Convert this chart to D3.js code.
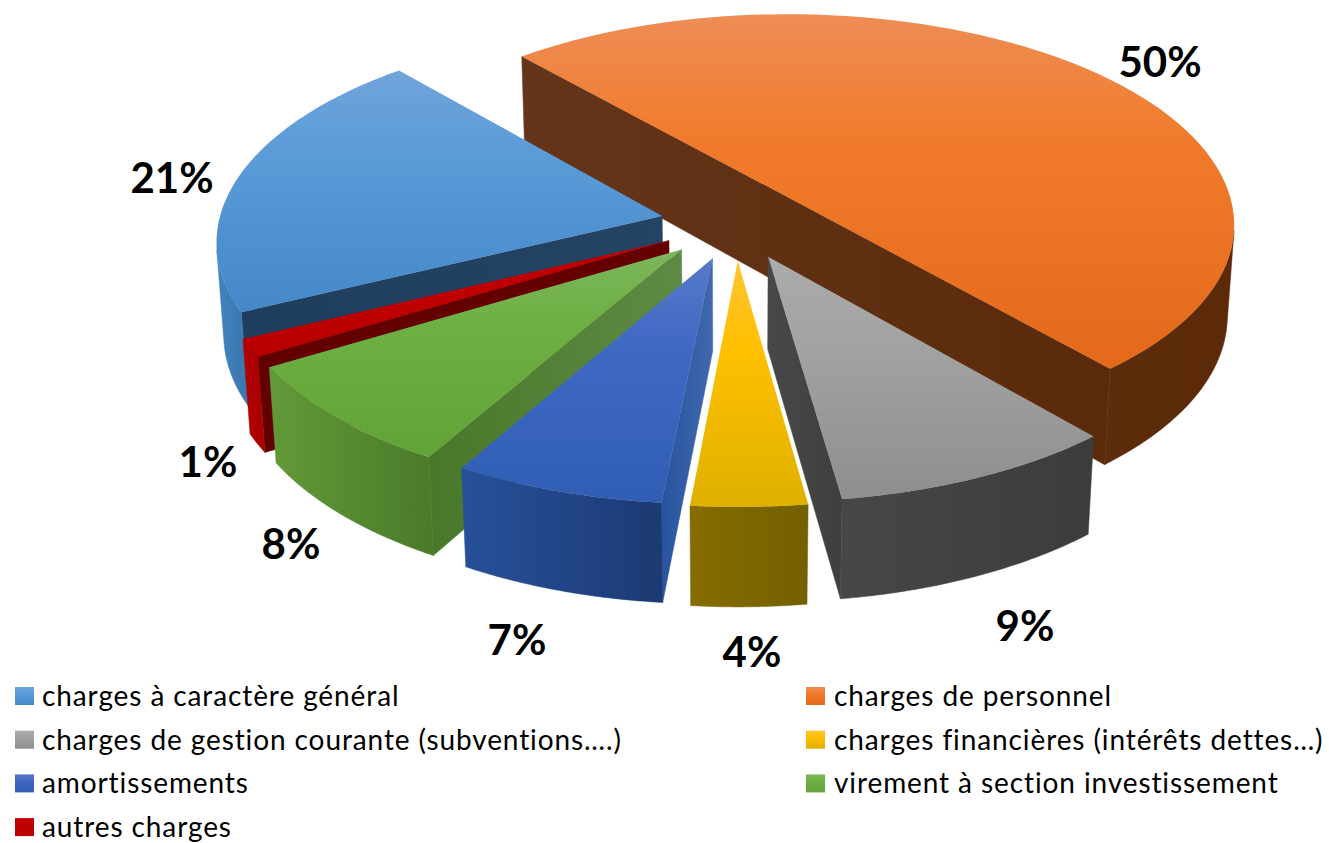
<!DOCTYPE html>
<html>
<head>
<meta charset="utf-8">
<script src="https://cdn.jsdelivr.net/npm/d3@7"></script>
<style>
  body { margin: 0; background: #fff; }
  svg { display: block; }
  text { font-family: Lato, "Open Sans", sans-serif; fill: #000; }
</style>
</head>
<body>
<svg id="chart" width="1329" height="843"></svg>
<script>
// data, in the order of the chart's series (labels show them rounded)
var categories = ["charges à caractère général", "charges de personnel", "charges de gestion courante (subventions….)",
  "charges financières (intérêts dettes…)", "amortissements", "virement à section investissement", "autres charges"];
var values = [20.8, 50.05, 9.16, 3.71, 6.77, 8.14, 1.36];

// colours: top face (light, mid, dark), outer wall (left, right), straight walls (left, right)
var topColors = [["#70a4da", "#5b9bd8", "#4488c9"], ["#ee8d55", "#f17b2c", "#e4691a"], ["#ababab", "#a3a3a3", "#8e8e8e"],
  ["#fdc536", "#ffc000", "#dfb000"], ["#5779c8", "#4069c4", "#2f5eb4"], ["#7cb65c", "#6eb044", "#62a337"], ["#c00000", "#c00000", "#b80000"]];
var outerColors = [["#4283be", "#3a76ae"], ["#5c2c0b", "#5c2a09"], ["#474747", "#3c3c3c"],
  ["#866c00", "#746000"], ["#27509a", "#1c3a73"], ["#629a39", "#4b7a2a"], ["#b30000", "#a80000"]];
var sideColors = [["#1f3d5d", "#254464"], ["#64351a", "#5b2a0a"], ["#484848", "#3f3f3f"],
  ["#866c00", "#746000"], ["#27549f", "#4168ad"], ["#497829", "#5f8a45"], ["#620000", "#650000"]];

// label and legend layout
var labelCenters = [[172, 178], [1160, 62], [1025, 626], [752, 652], [517, 640], [291, 544], [208, 462]];
var legendOrder = [[0, 0], [1, 0], [0, 1], [1, 1], [0, 2], [1, 2], [0, 3]];

// view of the pie: R = 1 in world units
var view = { cx: 736.0243, cy: 223.1402, F: 3592.4, D: 8.0967, phi: 0.4945, start: 4.2586, height: 0.2368 };
var explode = [0.1705, 0.1711, 0.172, 0.1757, 0.1728, 0.1729, 0.1704];

var svg = d3.select("#chart");
var defs = svg.append("defs");
var line = d3.line();

var slices = d3.pie().sort(null).startAngle(view.start).endAngle(view.start + 2 * Math.PI)(values);

// world to screen, Y toward the viewer, Z up
function project(X, Y, Z) {
  var c = Math.cos(view.phi), s = Math.sin(view.phi);
  var depth = view.D - Y * c - Z * s;
  return [view.cx + view.F * X / depth, view.cy + view.F * (Y * s - Z * c) / depth];
}

function point(d, i, angle, radius, z) {
  var mid = (d.startAngle + d.endAngle) / 2, e = explode[i];
  return project(e * Math.sin(mid) + radius * Math.sin(angle), -e * Math.cos(mid) - radius * Math.cos(angle), z);
}

// d3.polygonArea is positive for the walls turned to the viewer
function facesViewer(pts) {
  return d3.polygonArea(pts) > 0;
}

// horizontal or vertical gradient in screen space
function gradient(id, pts, vertical, colors) {
  var ext = d3.extent(pts, function(q) { return q[vertical ? 1 : 0]; });
  var g = defs.append("linearGradient").attr("id", id).attr("gradientUnits", "userSpaceOnUse");
  if (vertical) g.attr("x1", 0).attr("x2", 0).attr("y1", ext[0]).attr("y2", ext[1]);
  else g.attr("y1", 0).attr("y2", 0).attr("x1", ext[0]).attr("x2", ext[1]);
  colors.forEach(function(col, k) {
    var off = colors.length === 3 ? [0, 0.35, 1][k] : k;
    g.append("stop").attr("offset", off).attr("stop-color", col);
  });
  return "url(#" + id + ")";
}

function face(pts, fill) {
  svg.append("path").attr("d", line(pts) + "Z").attr("fill", fill).attr("stroke", fill).attr("stroke-width", 0.5);
}

// paint back to front
var paintOrder = [1, 0, 6, 5, 4, 3, 2];

paintOrder.forEach(function(i) {
  var d = slices[i], n = 80, bottom = -view.height;
  var angles = d3.range(n + 1).map(function(k) { return d.startAngle + (d.endAngle - d.startAngle) * k / n; });
  var topRim = angles.map(function(a) { return point(d, i, a, 1, 0); });
  var botRim = angles.map(function(a) { return point(d, i, a, 1, bottom); });
  var apexTop = point(d, i, 0, 0, 0), apexBot = point(d, i, 0, 0, bottom);

  // straight walls, only the ones turned to the viewer; when both show they are drawn as one
  var startWall = [apexTop, topRim[0], botRim[0], apexBot];
  var endWall = [topRim[n], apexTop, apexBot, botRim[n]];
  var showStart = facesViewer(startWall), showEnd = facesViewer(endWall);
  var wall = null;
  if (showStart && showEnd) wall = [topRim[0], botRim[0], apexBot, botRim[n], topRim[n], apexTop];
  else if (showStart) wall = startWall;
  else if (showEnd) wall = endWall;
  if (wall) face(wall, gradient("w" + i, wall, false, sideColors[i]));

  // outer wall, runs of visible segments
  var run = [];
  function flush(tag) {
    if (run.length > 1) {
      var poly = run.map(function(k) { return topRim[k]; }).concat(run.map(function(k) { return botRim[k]; }).reverse());
      face(poly, gradient("o" + i + tag, poly, false, outerColors[i]));
    }
    run = [];
  }
  d3.range(n).forEach(function(k) {
    if (facesViewer([topRim[k], topRim[k + 1], botRim[k + 1], botRim[k]])) {
      if (!run.length) run.push(k);
      run.push(k + 1);
    } else flush("r" + k);
  });
  flush("end");

  // top face
  var top = topRim.concat([apexTop]);
  svg.append("path").attr("d", line(top) + "Z")
    .attr("fill", gradient("t" + i, top, true, topColors[i]));
});

// percent labels
svg.selectAll(".pct").data(values).enter().append("text").attr("class", "pct")
  .attr("x", function(d, i) { return labelCenters[i][0]; })
  .attr("y", function(d, i) { return labelCenters[i][1]; })
  .attr("dy", "0.35em")
  .attr("text-anchor", "middle")
  .attr("font-size", 42).attr("font-weight", 700)
  .text(function(d) { return Math.round(d) + "%"; });

// legend
var legend = svg.selectAll(".leg").data(categories).enter().append("g").attr("class", "leg")
  .attr("transform", function(d, i) {
    return "translate(" + (legendOrder[i][0] ? 806 : 15) + "," + (687 + legendOrder[i][1] * 43.7) + ")";
  });
legend.append("rect").attr("width", 19).attr("height", 18)
  .attr("fill", function(d, i) { return gradient("l" + i, [[0, 0], [0, 18]], true, topColors[i]); });
legend.append("text").attr("x", function(d, i) { return legendOrder[i][0] ? 28 : 27; }).attr("y", 19)
  .attr("font-size", 28).attr("letter-spacing", 0.9)
  .text(function(d) { return d; });
</script>
</body>
</html>
